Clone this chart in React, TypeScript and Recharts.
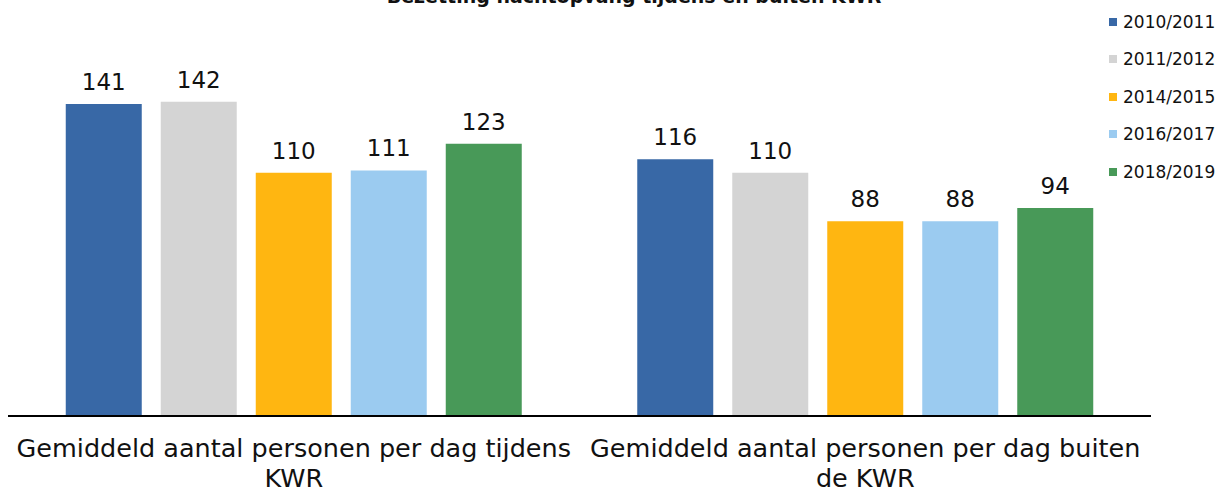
import * as React from "react";
import { Bar, BarChart, XAxis, YAxis, Legend, LabelList } from "recharts";

const categories = [
  "Gemiddeld aantal personen per dag tijdens\nKWR",
  "Gemiddeld aantal personen per dag buiten\nde KWR",
];
const seasons = ["2010/2011", "2011/2012", "2014/2015", "2016/2017", "2018/2019"];
const values2010 = [141, 116];
const values2011 = [142, 110];
const values2014 = [110, 88];
const values2016 = [111, 88];
const values2018 = [123, 94];
const seasonColors = ["#3868A6", "#D4D4D4", "#FFB611", "#9BCBF0", "#489958"];

const seriesValues = [values2010, values2011, values2014, values2016, values2018];

const data = categories.map((name, i) => {
  const row: Record<string, string | number> = { name };
  seasons.forEach((s, j) => {
    row[s] = seriesValues[j][i];
  });
  return row;
});

const FONT = "'DejaVu Sans', Verdana, sans-serif";

function CategoryTick(props: any) {
  const { x, y, payload } = props;
  const lines = String(payload.value).split("\n");
  return (
    <text
      x={x}
      y={y}
      textAnchor="middle"
      fontFamily={FONT}
      fontSize={25.5}
      fill="#111"
    >
      {lines.map((line, i) => (
        <tspan key={i} x={x} y={y + 33 + i * 30}>
          {line}
        </tspan>
      ))}
    </text>
  );
}

function SeasonLegend() {
  return (
    <div style={{ fontFamily: FONT, fontSize: 17, color: "#111" }}>
      {seasons.map((s, i) => (
        <div
          key={s}
          style={{
            display: "flex",
            alignItems: "center",
            height: 37.5,
          }}
        >
          <span
            style={{
              display: "inline-block",
              width: 8,
              height: 8,
              background: seasonColors[i],
              marginRight: 6,
            }}
          />
          <span>{s}</span>
        </div>
      ))}
    </div>
  );
}

export default function App() {
  return (
    <div style={{ position: "relative", width: 1225, height: 488, background: "#fff", overflow: "hidden" }}>
      <style>{"body{margin:0}"}</style>
      <div
        style={{
          position: "absolute",
          left: 0,
          width: 1268,
          top: -16,
          textAlign: "center",
          fontFamily: FONT,
          fontWeight: "bold",
          fontSize: 19,
          lineHeight: "24px",
          color: "#111",
          zIndex: 2,
        }}
      >
        Bezetting nachtopvang tijdens en buiten KWR
      </div>
      <BarChart
        width={1225}
        height={488}
        data={data}
        margin={{ top: 62, right: 74, bottom: 0, left: 8 }}
        barCategoryGap={57.75}
        barGap={19}
      >
        <XAxis
          dataKey="name"
          height={72}
          axisLine={{ stroke: "#000", strokeWidth: 2 }}
          tickLine={false}
          tick={<CategoryTick />}
          interval={0}
        />
        <YAxis hide domain={[0, 160]} />
        <Legend
          layout="vertical"
          align="center"
          verticalAlign="middle"
          content={<SeasonLegend />}
          wrapperStyle={{ left: 1109, top: 3, width: 116 }}
        />
        {seasons.map((s, i) => (
          <Bar key={s} dataKey={s} fill={seasonColors[i]} isAnimationActive={false}>
            <LabelList
              dataKey={s}
              position="top"
              offset={14}
              fill="#111"
              fontSize={23}
              fontFamily={FONT}
            />
          </Bar>
        ))}
      </BarChart>
    </div>
  );
}
